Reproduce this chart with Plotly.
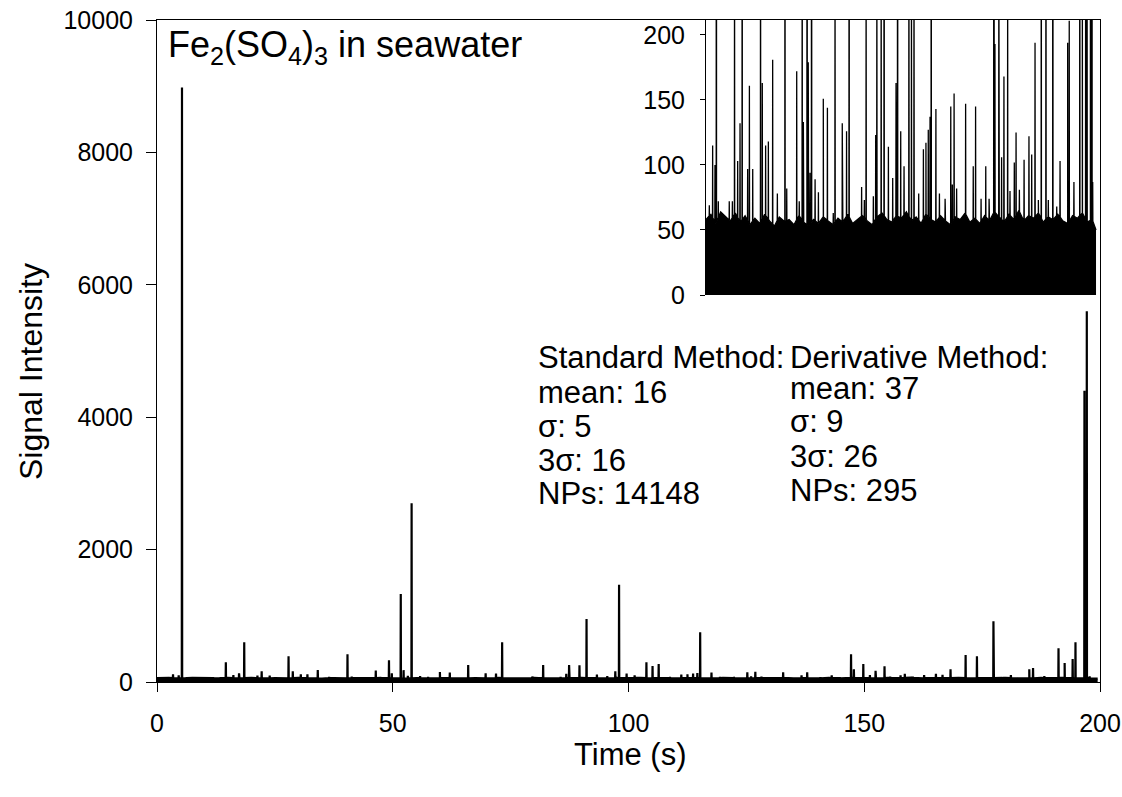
import numpy as np
import plotly.graph_objects as go

# ---------------- data ----------------
# large particle events (time s, intensity)
spike_t = [5.3, 14.6, 18.5, 27.9, 40.4, 49.2, 51.7, 54.0, 73.2, 91.1, 98.0,
           103.8, 105.1, 106.4, 115.2, 147.2, 149.8, 171.5, 173.9, 177.4,
           191.2, 192.5, 194.2, 194.8, 196.7, 197.2]
spike_h = [8980, 300, 600, 390, 420, 330, 1330, 2700, 600, 950, 1470,
           297, 242, 272, 750, 418, 272, 408, 388, 917,
           509, 287, 347, 600, 4400, 5600]

# smaller events (visible mostly in the inset)
minor_t = [1.7, 3.4, 4.6, 6.3, 11.9, 13.5, 16.2, 17.4, 21.3, 22.2, 23.9, 28.8,
           30.5, 31.9, 34.1, 36.5, 41.3, 46.4, 47.7, 49.8, 52.3, 53.2, 55.8,
           57.5, 60.0, 62.1, 65.1, 66.0, 69.7, 71.9, 79.6, 81.0, 81.9, 85.6,
           86.8, 87.4, 89.6, 93.3, 95.5, 97.2, 99.6, 101.3, 108.8, 111.2,
           112.5, 113.7, 114.6, 117.6, 119.4, 122.3, 125.2, 126.0, 126.9,
           128.2, 132.8, 136.7, 137.9, 140.7, 143.1, 144.8, 147.8, 151.2,
           152.4, 154.3, 155.5, 157.7, 158.6, 160.3, 162.7, 165.2, 166.6,
           168.3, 170.0, 175.1, 179.4, 181.1, 185.0, 185.8, 188.2, 197.8]
minor_h = [69, 115, 100, 72, 72, 72, 103, 132, 97, 161, 97, 163,
           115, 118, 181, 78, 82, 172, 72, 133, 179, 94, 89,
           79, 151, 144, 63, 257, 132, 126, 83, 73, 257, 76,
           123, 257, 252, 114, 90, 163, 126, 99, 78, 112,
           117, 127, 137, 143, 78, 74, 145, 85, 155,
           82, 147, 99, 145, 74, 99, 74, 193, 106,
           168, 237, 80, 102, 125, 81, 104, 122, 108,
           194, 73, 73, 68, 103, 194, 211, 87, 87]

# background signal level
base_t = [0, 2.5, 5, 7.5, 10, 12.5, 15, 17.5, 20, 22.5,
          25, 27.5, 30, 32.5, 35, 37.5, 40, 42.5, 45, 47.5,
          50, 52.5, 55, 57.5, 60, 62.5, 65, 67.5, 70, 72.5,
          75, 77.5, 80, 82.5, 85, 87.5, 90, 92.5, 95, 97.5,
          100, 102.5, 105, 107.5, 110, 112.5, 115, 117.5, 120, 122.5,
          125, 127.5, 130, 132.5, 135, 137.5, 140, 142.5, 145, 147.5,
          150, 152.5, 155, 157.5, 160, 162.5, 165, 167.5, 170, 172.5,
          175, 177.5, 180, 182.5, 185, 187.5, 190, 192.5, 195, 197.5,
          199.5]
base_h = [58, 62, 55, 64, 60, 57, 63, 56, 61, 54,
          59, 55, 62, 57, 53, 60, 56, 58, 54, 61,
          56, 53, 58, 55, 60, 57, 54, 59, 56, 62,
          55, 58, 61, 57, 54, 60, 63, 58, 56, 61,
          59, 64, 57, 60, 55, 62, 58, 56, 61, 57,
          54, 60, 58, 63, 56, 59, 55, 61, 57, 64,
          60, 56, 62, 58, 65, 57, 61, 59, 63, 56,
          60, 58, 62, 57, 55, 61, 59, 63, 56, 58,
          50]

x_ticks = [0, 50, 100, 150, 200]
y_ticks = [0, 2000, 4000, 6000, 8000, 10000]
y_ticktext = ["0", "2000", "4000", "6000", "8000", "10000"]
inset_ticks = [0, 50, 100, 150, 200]

std_lines = ["Standard Method:", "mean: 16", "σ: 5", "3σ: 16", "NPs: 14148"]
der_lines = ["Derivative Method:", "mean: 37", "σ: 9", "3σ: 26", "NPs: 295"]

# ---------------- build a spike-train polyline ----------------
def build(d):
    pts = list(zip(base_t, base_h))
    bt = np.array(base_t, float)
    bh = np.array(base_h, float)
    for t, h in zip(spike_t + minor_t, spike_h + minor_h):
        foot = float(np.interp(t, bt, bh))
        pts += [(t - d, foot), (t, h), (t + d, foot)]
    pts.sort(key=lambda p: p[0])
    xs = [p[0] for p in pts]
    ys = [p[1] for p in pts]
    return xs, ys

FONT = "Liberation Sans, Arial, Helvetica, sans-serif"

fig = go.Figure()
xm, ym = build(0.04)
fig.add_trace(go.Scatter(x=xm, y=ym, mode="lines", line=dict(color="black", width=2.2),
                         fill="tozeroy", fillcolor="black", xaxis="x", yaxis="y",
                         showlegend=False, hoverinfo="skip"))
xi, yi = build(0.08)
fig.add_trace(go.Scatter(x=xi, y=yi, mode="lines", line=dict(color="black", width=1.3),
                         fill="tozeroy", fillcolor="black", xaxis="x2", yaxis="y2",
                         showlegend=False, hoverinfo="skip"))

# the page margin is removed after load, so the figure sits at (0, 0)
W, H = 1122, 797
PL, PR, PT, PB = 157, 1100, 20, 682          # plot area in page pixels
L, T = PL, PT
R = W - PR
B = H - PB

def px_x(px):
    return (px - PL) / (PR - PL)

def px_y(py):
    return (PB - py) / (PB - PT)

fig.update_layout(
    width=W, height=H,
    margin=dict(l=L, r=R, t=T, b=B, autoexpand=False),
    paper_bgcolor="white", plot_bgcolor="rgba(0,0,0,0)",
    font=dict(family=FONT, color="black", size=25),
    showlegend=False,
    xaxis=dict(range=[0, 200], tickvals=x_ticks, ticks="outside", ticklen=9,
               tickwidth=1, tickcolor="black", showline=True, linecolor="black",
               linewidth=1, mirror=True, showgrid=False, zeroline=False,
               tickfont=dict(size=25), ticklabelstandoff=10, automargin=False,
               ticklabeloverflow="allow"),
    yaxis=dict(range=[0, 10000], tickvals=y_ticks, ticktext=y_ticktext,
               ticks="outside", ticklen=10,
               tickwidth=1, tickcolor="black", showline=True, linecolor="black",
               linewidth=1, mirror=True, showgrid=False, zeroline=False,
               tickfont=dict(size=25), ticklabelstandoff=8, automargin=False,
               ticklabeloverflow="allow"),
    xaxis2=dict(domain=[px_x(706), px_x(1097)], range=[0, 200], visible=False,
                anchor="y2", automargin=False),
    yaxis2=dict(domain=[px_y(295), 1.0], range=[0, 211.5], tickvals=inset_ticks,
                ticks="outside", ticklen=5, tickwidth=1, tickcolor="black",
                showline=True, linecolor="black", linewidth=1, showgrid=False,
                zeroline=False, anchor="x2", tickfont=dict(size=25),
                ticklabelstandoff=10, automargin=False,
                ticklabeloverflow="allow"),
)

ann = []
ann.append(dict(text="Fe<sub>2</sub>(SO<sub>4</sub>)<sub>3</sub> in seawater",
                x=px_x(166), y=px_y(22), xref="paper", yref="paper",
                xanchor="left", yanchor="top", showarrow=False,
                font=dict(size=36, family=FONT)))
std_y = [357, 392, 426, 460, 494]
der_y = [357, 388, 422, 456, 490]
for txt, yy in zip(std_lines, std_y):
    ann.append(dict(text=txt, x=px_x(536), y=px_y(yy), xref="paper", yref="paper",
                    xanchor="left", yanchor="middle", showarrow=False,
                    font=dict(size=31, family=FONT)))
for txt, yy in zip(der_lines, der_y):
    ann.append(dict(text=txt, x=px_x(788), y=px_y(yy), xref="paper", yref="paper",
                    xanchor="left", yanchor="middle", showarrow=False,
                    font=dict(size=31, family=FONT)))
ann.append(dict(text="Time (s)", x=px_x(630), y=px_y(754), xref="paper", yref="paper",
                xanchor="center", yanchor="middle", showarrow=False,
                font=dict(size=31, family=FONT)))
ann.append(dict(text="Signal Intensity", x=px_x(31), y=px_y(372), xref="paper",
                yref="paper", xanchor="center", yanchor="middle", textangle=-90,
                showarrow=False, font=dict(size=32, family=FONT)))
fig.update_layout(annotations=ann)

fig.write_html("out.html",
               config={"displayModeBar": False},
               post_script="document.body.style.margin='0';"
                           "document.body.style.overflow='hidden';")
